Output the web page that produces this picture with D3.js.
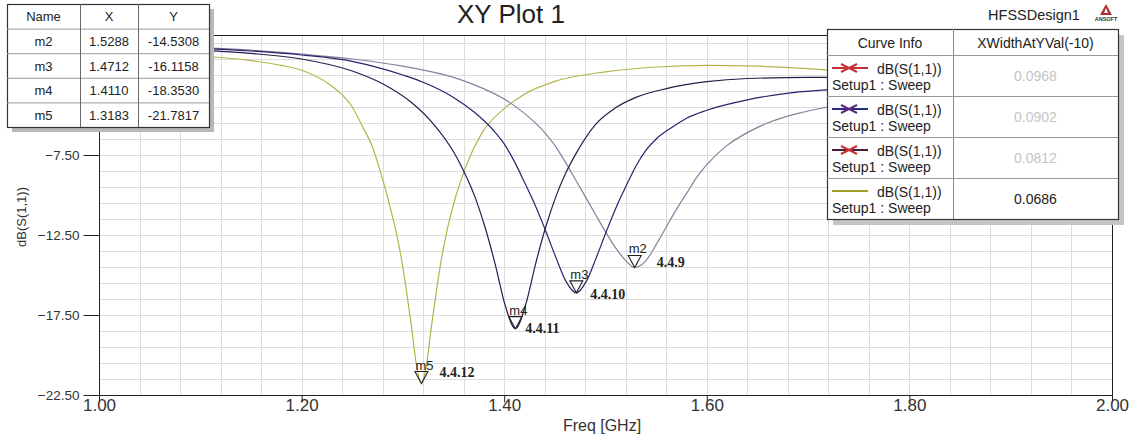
<!DOCTYPE html>
<html>
<head>
<meta charset="utf-8">
<script src="https://cdn.jsdelivr.net/npm/d3@7"></script>
<style>
  html, body { margin: 0; padding: 0; background: #fff; }
  svg { display: block; }
  .narrow { font-family: "Liberation Sans Narrow", "Arial Narrow", "Liberation Sans", Arial, sans-serif; }
  .sans { font-family: "Liberation Sans", Arial, sans-serif; }
</style>
</head>
<body>
<svg id="chart" width="1139" height="441"></svg>
<script>
// ---- S11 sweeps (frequency in GHz, return loss in dB) ----
const freq_4_4_9  = [1.00, 1.05, 1.10, 1.15, 1.20, 1.25, 1.30, 1.35, 1.37, 1.40, 1.42, 1.44, 1.45, 1.46, 1.47, 1.48, 1.49, 1.50, 1.51, 1.52, 1.5288, 1.54, 1.55, 1.56, 1.57, 1.58, 1.59, 1.60, 1.62, 1.64, 1.66, 1.69, 1.72, 1.80, 1.90, 2.00];
const db_4_4_9    = [-0.60, -0.68, -0.80, -0.95, -1.20, -1.50, -1.95, -2.65, -3.10, -4.00, -4.90, -6.10, -6.90, -7.90, -9.00, -10.10, -11.20, -12.30, -13.30, -14.10, -14.5308, -14.10, -13.10, -12.00, -10.90, -9.90, -8.90, -8.10, -6.90, -6.10, -5.50, -4.90, -4.50, -3.80, -3.35, -3.20];

const freq_4_4_10 = [1.00, 1.05, 1.10, 1.15, 1.20, 1.25, 1.27, 1.30, 1.32, 1.35, 1.37, 1.39, 1.40, 1.41, 1.42, 1.426, 1.431, 1.441, 1.451, 1.461, 1.4712, 1.481, 1.491, 1.501, 1.511, 1.516, 1.521, 1.53, 1.54, 1.55, 1.565, 1.58, 1.60, 1.64, 1.685, 1.72, 1.80, 1.90, 2.00];
const db_4_4_10   = [-0.68, -0.74, -0.84, -1.00, -1.25, -1.65, -1.95, -2.50, -2.95, -3.90, -4.80, -6.00, -6.80, -7.90, -9.20, -10.00, -10.70, -12.25, -13.90, -15.40, -16.1158, -15.40, -13.90, -12.25, -10.70, -10.00, -9.35, -8.20, -7.20, -6.50, -5.80, -5.20, -4.70, -4.05, -3.60, -3.42, -3.25, -3.20, -3.20];

const freq_4_4_11 = [1.00, 1.05, 1.10, 1.15, 1.20, 1.25, 1.28, 1.31, 1.33, 1.35, 1.36, 1.371, 1.381, 1.391, 1.401, 1.411, 1.421, 1.431, 1.441, 1.451, 1.461, 1.471, 1.49, 1.51, 1.53, 1.56, 1.60, 1.64, 1.70, 1.80, 1.90, 2.00];
const db_4_4_11   = [-0.75, -0.82, -0.95, -1.15, -1.50, -2.25, -3.05, -4.30, -5.55, -7.30, -8.50, -10.10, -12.00, -14.30, -16.90, -18.353, -16.90, -14.30, -12.00, -10.10, -8.60, -7.40, -5.60, -4.55, -3.90, -3.35, -2.92, -2.72, -2.65, -2.70, -2.80, -2.90];

const freq_4_4_12 = [1.00, 1.05, 1.10, 1.15, 1.18, 1.20, 1.23, 1.25, 1.26, 1.27, 1.278, 1.2843, 1.2883, 1.2933, 1.2983, 1.3033, 1.3083, 1.3133, 1.3183, 1.3233, 1.3283, 1.3333, 1.3383, 1.3433, 1.3483, 1.3526, 1.3583, 1.3683, 1.3783, 1.40, 1.42, 1.45, 1.50, 1.55, 1.60, 1.65, 1.70, 1.75, 1.80, 1.90, 2.00];
const db_4_4_12   = [-0.95, -1.10, -1.30, -1.60, -1.90, -2.20, -3.20, -4.50, -5.70, -7.00, -8.60, -10.00, -11.00, -12.30, -13.90, -15.90, -18.15, -20.60, -21.7817, -20.60, -18.15, -15.90, -13.90, -12.30, -11.00, -10.00, -8.90, -7.30, -6.10, -4.60, -3.70, -2.90, -2.30, -2.00, -1.90, -1.95, -2.10, -2.35, -2.60, -3.10, -3.60];

// ---- markers ----
const markerNames  = ["m2", "m3", "m4", "m5"];
const markerFreq   = [1.5288, 1.4712, 1.4110, 1.3183];
const markerDb     = [-14.5308, -16.1158, -18.3530, -21.7817];
const markerTags   = ["4.4.9", "4.4.10", "4.4.11", "4.4.12"];

// ---- legend (curve info) ----
const legendExpr   = ["dB(S(1,1))", "dB(S(1,1))", "dB(S(1,1))", "dB(S(1,1))"];
const legendSetup  = ["Setup1 : Sweep", "Setup1 : Sweep", "Setup1 : Sweep", "Setup1 : Sweep"];
const widthAtMinus10 = [0.0968, 0.0902, 0.0812, 0.0686];

// ---- axis ticks ----
const xTickValues = [1.00, 1.20, 1.40, 1.60, 1.80, 2.00];
const yTickValues = [-22.50, -17.50, -12.50, -7.50, -2.50];

// ---------------------------------------------------------------
const svg = d3.select("#chart");
const X0 = 99, X1 = 1112, Y0 = 35, Y1 = 395;
const x = d3.scaleLinear().domain([1, 2]).range([X0, X1]);
const y = d3.scaleLinear().domain([-22.5, 0]).range([Y1, Y0]);

const xMinor = d3.range(0, 26).map(i => 1 + i * 0.04);
const yMinor = d3.range(0, 23).map(i => -22.5 + i);

// grid
const grid = svg.append("g").attr("stroke", "#dcdcdc").attr("stroke-width", 1).attr("shape-rendering", "crispEdges");
grid.selectAll("line.gx").data(xMinor).join("line")
  .attr("x1", d => Math.round(x(d)) + 0.5).attr("x2", d => Math.round(x(d)) + 0.5)
  .attr("y1", Y0).attr("y2", Y1);
grid.selectAll("line.gy").data(yMinor).join("line")
  .attr("x1", X0).attr("x2", X1)
  .attr("y1", d => Math.round(y(d)) + 0.5).attr("y2", d => Math.round(y(d)) + 0.5);

// curves
const series = [
  { f: freq_4_4_12, v: db_4_4_12, color: "#b4b44c" },
  { f: freq_4_4_9,  v: db_4_4_9,  color: "#8a7e9c" },
  { f: freq_4_4_10, v: db_4_4_10, color: "#24246e" },
  { f: freq_4_4_11, v: db_4_4_11, color: "#2c1a4a" }
];
const line = d3.line().x(d => x(d[0])).y(d => y(d[1])).curve(d3.curveMonotoneX);
svg.append("g").selectAll("path").data(series).join("path")
  .attr("d", s => line(s.f.map((f, i) => [f, s.v[i]])))
  .attr("fill", "none").attr("stroke", s => s.color).attr("stroke-width", 1.2);

// frame
svg.append("rect").attr("x", X0 + 0.5).attr("y", Y0 + 0.5)
  .attr("width", X1 - X0).attr("height", Y1 - Y0)
  .attr("fill", "none").attr("stroke", "#222").attr("stroke-width", 1)
  .attr("shape-rendering", "crispEdges");

// x axis
const gx = svg.append("g").attr("transform", `translate(0,${Y1 + 0.5})`).attr("class", "narrow");
gx.call(d3.axisBottom(x).tickValues(xMinor).tickSize(4).tickFormat(""));
gx.call(d3.axisBottom(x).tickValues(xTickValues).tickSize(7).tickFormat(d3.format(".2f")));
gx.selectAll("path.domain").remove();
gx.selectAll("line").attr("stroke", "#222");
gx.selectAll("text").attr("font-size", 17).attr("fill", "#333").attr("dy", "0.5em").attr("y", 7);

// y axis (the -2.50 label sits under the marker table, so only its tick is drawn)
const gy = svg.append("g").attr("transform", `translate(${X0 + 0.5},0)`).attr("class", "sans");
gy.call(d3.axisLeft(y).tickValues(yMinor).tickSize(8).tickFormat(""));
gy.call(d3.axisLeft(y).tickValues(yTickValues).tickSize(16)
  .tickFormat(d => d > -5 ? "" : d3.format(".2f")(d)));
gy.selectAll("path.domain").remove();
gy.selectAll("line").attr("stroke", "#222");
gy.selectAll("text").attr("font-size", 13.5).attr("fill", "#333").attr("x", -20);

// axis titles
svg.append("text").attr("class", "sans")
  .attr("transform", "translate(26,217) rotate(-90)")
  .attr("text-anchor", "middle").attr("font-size", 13).attr("fill", "#333")
  .text("dB(S(1,1))");
svg.append("text").attr("class", "narrow")
  .attr("x", 602).attr("y", 431).attr("text-anchor", "middle")
  .attr("font-size", 16).attr("fill", "#333").text("Freq [GHz]");

// markers
const tagOffsets = [[22, 0], [14, 6], [10, 4], [18, -7]];
const mk = svg.append("g");
markerNames.forEach((name, i) => {
  const px = x(markerFreq[i]), py = y(markerDb[i]);
  mk.append("path")
    .attr("d", `M${px},${py} L${px - 6.5},${py - 12} L${px + 6.5},${py - 12} Z`)
    .attr("fill", "none").attr("stroke", "#222").attr("stroke-width", 1.1);
  mk.append("text").attr("class", "sans")
    .attr("x", px - 6).attr("y", py - 14).attr("font-size", 13).attr("fill", "#222")
    .text(name);
  mk.append("text")
    .attr("x", px + tagOffsets[i][0]).attr("y", py + tagOffsets[i][1])
    .attr("font-family", "'Liberation Serif', 'Times New Roman', serif")
    .attr("font-weight", "bold").attr("font-size", 14).attr("fill", "#222")
    .text(markerTags[i]);
});

// marker table
const tbl = svg.append("g").attr("class", "sans");
const tX = [7, 80, 138, 209], tY0 = 4, rowH = 24.6;
const tRows = [["Name", "X", "Y"]].concat(markerNames.map((n, i) =>
  [n, markerFreq[i].toFixed(4), markerDb[i].toFixed(4)]));
const tH = rowH * tRows.length;
tbl.append("rect").attr("x", tX[0] + 5).attr("y", tY0 + 5).attr("width", tX[3] - tX[0]).attr("height", tH).attr("fill", "#b8b8b8");
tbl.append("rect").attr("x", tX[0] + 0.5).attr("y", tY0 + 0.5).attr("width", tX[3] - tX[0]).attr("height", tH)
  .attr("fill", "#fff").attr("stroke", "#333").attr("stroke-width", 1.2);
tRows.forEach((r, ri) => {
  if (ri > 0) tbl.append("line").attr("x1", tX[0]).attr("x2", tX[3])
    .attr("y1", tY0 + ri * rowH + 0.5).attr("y2", tY0 + ri * rowH + 0.5).attr("stroke", "#999");
  r.forEach((c, ci) => {
    tbl.append("text").attr("x", (tX[ci] + tX[ci + 1]) / 2).attr("y", tY0 + ri * rowH + rowH / 2 + 5)
      .attr("text-anchor", "middle").attr("font-size", 13).attr("fill", "#222").text(c);
  });
});
[1, 2].forEach(ci => tbl.append("line").attr("x1", tX[ci] + 0.5).attr("x2", tX[ci] + 0.5)
  .attr("y1", tY0).attr("y2", tY0 + tH).attr("stroke", "#666"));

// legend table
const lg = svg.append("g").attr("class", "sans");
const lX = [827, 953, 1118], lY0 = 29, lHead = 26, lRow = 41;
const lH = lHead + lRow * 4;
lg.append("rect").attr("x", lX[0] + 6).attr("y", lY0 + 6).attr("width", lX[2] - lX[0]).attr("height", lH).attr("fill", "#c4c4c4");
lg.append("rect").attr("x", lX[0] + 0.5).attr("y", lY0 + 0.5).attr("width", lX[2] - lX[0]).attr("height", lH)
  .attr("fill", "#fff").attr("stroke", "#333").attr("stroke-width", 1.2);
lg.append("line").attr("x1", lX[1] + 0.5).attr("x2", lX[1] + 0.5).attr("y1", lY0).attr("y2", lY0 + lH).attr("stroke", "#888");
lg.append("text").attr("x", (lX[0] + lX[1]) / 2).attr("y", lY0 + 19).attr("text-anchor", "middle")
  .attr("font-size", 14).attr("fill", "#222").text("Curve Info");
lg.append("text").attr("x", (lX[1] + lX[2]) / 2).attr("y", lY0 + 19).attr("text-anchor", "middle")
  .attr("font-size", 14).attr("fill", "#222").text("XWidthAtYVal(-10)");
const legendLine = ["#c83038", "#2a2a86", "#4a1c3c", "#a0a028"];
const legendMark = ["#c83038", "#5a2a7a", "#c83038", null];
widthAtMinus10.forEach((w, i) => {
  const top = lY0 + lHead + i * lRow;
  lg.append("line").attr("x1", lX[0]).attr("x2", lX[2]).attr("y1", top + 0.5).attr("y2", top + 0.5).attr("stroke", "#999");
  const ly = top + 13;
  lg.append("line").attr("x1", 832).attr("x2", 868).attr("y1", ly).attr("y2", ly)
    .attr("stroke", legendLine[i]).attr("stroke-width", 2);
  if (legendMark[i]) {
    lg.append("path").attr("d", `M841,${ly - 4} L849,${ly} L841,${ly + 4} M857,${ly - 4} L849,${ly} L857,${ly + 4}`)
      .attr("fill", "none").attr("stroke", legendMark[i]).attr("stroke-width", 2);
  }
  lg.append("text").attr("x", 877).attr("y", top + 19).attr("font-size", 14).attr("fill", "#222").text(legendExpr[i]);
  lg.append("text").attr("x", 832).attr("y", top + 35).attr("font-size", 14).attr("fill", "#222").text(legendSetup[i]);
  lg.append("text").attr("x", (lX[1] + lX[2]) / 2).attr("y", top + lRow / 2 + 5).attr("text-anchor", "middle")
    .attr("font-size", 14).attr("fill", i === 3 ? "#222" : "#c4c4c4").text(w.toFixed(4));
});

// titles
svg.append("text").attr("class", "narrow").attr("x", 511).attr("y", 23).attr("text-anchor", "middle")
  .attr("font-size", 26).attr("fill", "#222").text("XY Plot 1");
svg.append("text").attr("class", "narrow").attr("x", 1034).attr("y", 20).attr("text-anchor", "middle")
  .attr("font-size", 14.5).attr("fill", "#222").text("HFSSDesign1");
const logo = svg.append("g");
logo.append("path").attr("d", "M1106,4 L1100,15 L1112,15 Z").attr("fill", "#b03030");
logo.append("path").attr("d", "M1106,8 L1104,13 L1108,13 Z").attr("fill", "#fff");
logo.append("text").attr("class", "sans").attr("x", 1106).attr("y", 21).attr("text-anchor", "middle")
  .attr("font-size", 5.5).attr("font-weight", "bold").attr("fill", "#333").text("ANSOFT");
</script>
</body>
</html>
